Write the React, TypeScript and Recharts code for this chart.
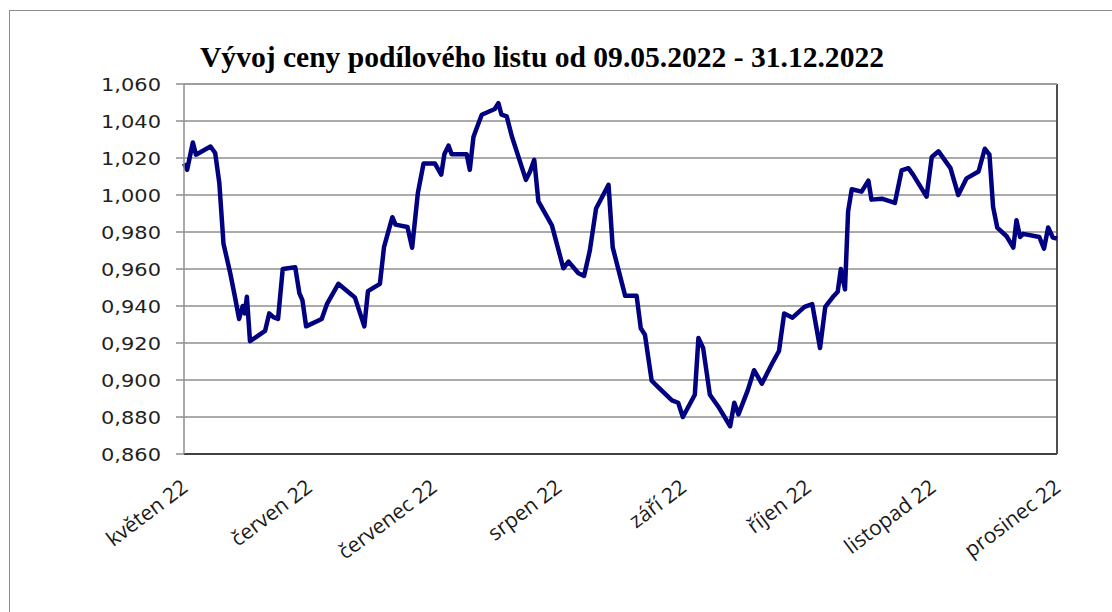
import { CartesianGrid, Line, LineChart, ReferenceLine, XAxis, YAxis } from "recharts";

// trading-day position (0 = 09.05.2022, 168 = 31.12.2022) of each vertex
const days = [
  0, 0.6, 1.7, 2.3, 5.1, 6.0, 6.8, 7.6, 8.9, 9.8,
  10.6, 11.3, 11.7, 12.1, 12.7, 15.6, 16.4, 17.2, 18.1, 19.0,
  21.4, 22.2, 22.8, 23.5, 26.5, 27.5, 29.7, 32.3, 32.9, 34.7,
  35.4, 37.7, 38.5, 40.1, 40.7, 43.0, 43.9, 45.0, 46.1, 48.3,
  49.5, 50.1, 50.9, 51.5, 54.4, 55.0, 55.7, 56.1, 57.3, 59.8,
  60.5, 61.1, 62.1, 63.1, 65.8, 66.6, 67.4, 68.2, 70.8, 73.0,
  74.0, 75.9, 77.0, 78.1, 79.3, 81.7, 82.5, 84.9, 87.1, 87.9,
  88.7, 90.0, 91.3, 93.9, 95.1, 96.0, 98.3, 99.0, 99.9, 101.2,
  102.8, 105.1, 105.9, 106.7, 108.5, 109.7, 111.2, 113.1, 114.5, 115.5,
  117.1, 119.4, 120.9, 122.4, 123.4, 125.0, 125.8, 126.4, 127.2, 127.8,
  128.5, 130.4, 131.7, 132.3, 134.3, 136.8, 138.1, 139.4, 140.3, 142.9,
  143.9, 145.2, 147.5, 149.0, 150.6, 152.9, 154.1, 155.0, 155.7, 156.5,
  158.3, 159.6, 160.2, 160.9, 161.5, 164.6, 165.5, 166.3, 167.2, 168,
];

const prices = [
  1.017, 1.0136, 1.0284, 1.0218, 1.0262, 1.0227, 1.0064, 0.9737, 0.9577, 0.945,
  0.933, 0.94, 0.936, 0.945, 0.921, 0.9265, 0.936, 0.934, 0.933, 0.96,
  0.961, 0.947, 0.943, 0.929, 0.933, 0.941, 0.952, 0.946, 0.9445, 0.929,
  0.948, 0.952, 0.972, 0.988, 0.984, 0.9827, 0.9715, 1.001, 1.017, 1.017,
  1.011, 1.022, 1.0267, 1.022, 1.022, 1.0136, 1.0314, 1.0345, 1.0434, 1.0465,
  1.0497, 1.0434, 1.0425, 1.0316, 1.0082, 1.0127, 1.019, 0.9965, 0.9836, 0.9604,
  0.964, 0.9577, 0.9563, 0.97, 0.9927, 1.0055, 0.9717, 0.9455, 0.9455, 0.928,
  0.9245, 0.8996, 0.896, 0.889, 0.8877, 0.88, 0.892, 0.9227, 0.9173, 0.892,
  0.8857, 0.875, 0.8877, 0.8814, 0.8945, 0.9053, 0.898, 0.9085, 0.9157, 0.936,
  0.9337, 0.9395, 0.941, 0.9173, 0.9395, 0.9453, 0.9477, 0.96, 0.949, 0.9911,
  1.0031, 1.0018, 1.0078, 0.9975, 0.998, 0.9957, 1.0133, 1.0145, 1.011, 0.9991,
  1.0205, 1.0236, 1.0145, 1.0, 1.009, 1.0127, 1.025, 1.0218, 0.9936, 0.9824,
  0.9777, 0.9716, 0.9864, 0.9773, 0.979, 0.9773, 0.971, 0.9824, 0.977, 0.9765,
];

const monthLabels = [
  "květen 22",
  "červen 22",
  "červenec 22",
  "srpen 22",
  "září 22",
  "říjen 22",
  "listopad 22",
  "prosinec 22",
];

const yTicks = [0.86, 0.88, 0.9, 0.92, 0.94, 0.96, 0.98, 1.0, 1.02, 1.04, 1.06];

const title = "Vývoj ceny podílového listu od 09.05.2022 - 31.12.2022";

const data = days.map((d, i) => ({ day: d, price: prices[i] }));
const monthTicks = monthLabels.map((_, i) => i * 24);

const fmtPrice = (v: number) => v.toFixed(3).replace(".", ",");

function YTick(props: any) {
  const { x, y, payload } = props;
  return (
    <text
      x={x}
      y={y}
      dy={7}
      textAnchor="end"
      fill="#1f1f1f"
      fontFamily="DejaVu Sans, Verdana, sans-serif"
      fontSize={17}
      textLength={60}
      lengthAdjust="spacingAndGlyphs"
    >
      {fmtPrice(payload.value)}
    </text>
  );
}

function XTick(props: any) {
  const { x, y, payload } = props;
  const ax = x + 5;
  const ay = y + 36;
  return (
    <text
      x={ax}
      y={ay}
      textAnchor="end"
      fill="#1a1a1a"
      fontFamily="Open Sans, sans-serif"
      fontSize={21}
      transform={`rotate(-37, ${ax}, ${ay})`}
    >
      {monthLabels[Math.round(payload.value / 24)]}
    </text>
  );
}

export default function App() {
  return (
    <div style={{ position: "absolute", left: 0, top: 0, width: 1112, height: 612, background: "#fff" }}>
      <svg width={1112} height={612} style={{ position: "absolute", left: 0, top: 0 }}>
        <rect x={9.5} y={10.5} width={1120} height={620} fill="none" stroke="#8c8c8c" strokeWidth={1} />
        <text
          x={542}
          y={67}
          textAnchor="middle"
          fontFamily="Liberation Serif, Times New Roman, serif"
          fontWeight="bold"
          fontSize={29}
          fill="#000"
          textLength={684}
          lengthAdjust="spacingAndGlyphs"
        >
          {title}
        </text>
      </svg>
      <div style={{ position: "absolute", left: 0, top: 0 }}>
        <LineChart
          width={1112}
          height={612}
          data={data}
          margin={{ top: 84, right: 55, left: 0, bottom: 0 }}
        >
          <CartesianGrid horizontal vertical={false} stroke="#8f8f8f" strokeWidth={1.5} />
          <XAxis
            dataKey="day"
            type="number"
            domain={[0, 168]}
            ticks={monthTicks}
            interval={0}
            height={158}
            tickLine={false}
            tickSize={0}
            tickMargin={0}
            axisLine={{ stroke: "#404040", strokeWidth: 2 }}
            tick={<XTick />}
          />
          <YAxis
            type="number"
            domain={[0.86, 1.06]}
            ticks={yTicks}
            interval={0}
            width={184}
            tickSize={8}
            tickMargin={15}
            axisLine={{ stroke: "#8f8f8f", strokeWidth: 1.5 }}
            tickLine={{ stroke: "#8f8f8f", strokeWidth: 1.5 }}
            tick={<YTick />}
          />
          <ReferenceLine x={168} stroke="#505050" strokeWidth={2} />
          <ReferenceLine y={1.06} stroke="#9a9a9a" strokeWidth={1.5} />
          <Line
            type="linear"
            dataKey="price"
            stroke="#000080"
            strokeWidth={4.5}
            strokeLinejoin="round"
            dot={false}
            activeDot={false}
            isAnimationActive={false}
          />
        </LineChart>
      </div>
    </div>
  );
}
